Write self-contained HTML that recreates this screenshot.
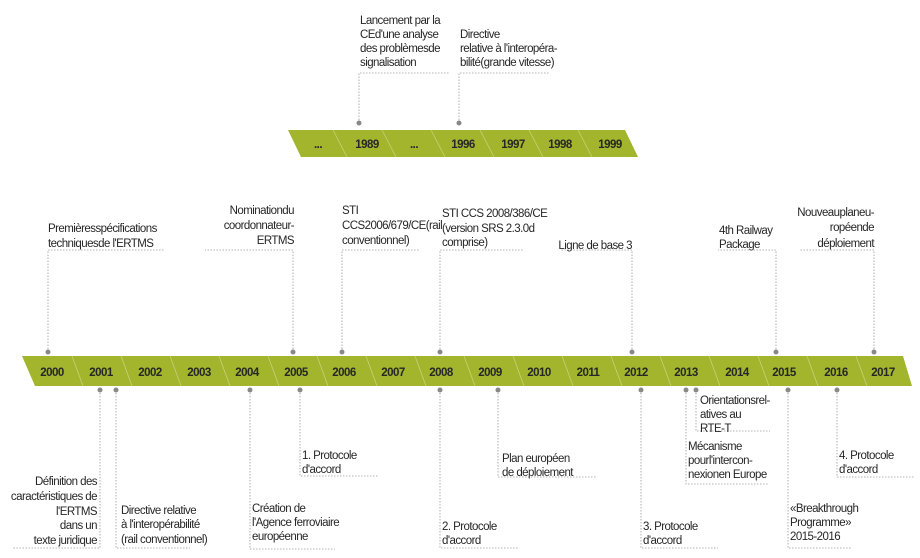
<!DOCTYPE html>
<html><head><meta charset="utf-8"><style>
html,body{margin:0;padding:0;background:#fff;}
svg{display:block}
text{font-family:"Liberation Sans Narrow","Liberation Sans",sans-serif;font-size:11.5px;fill:#262626;letter-spacing:-0.55px;}
.y{font-weight:bold;font-size:11.5px;fill:#3a3a1a;text-anchor:middle;letter-spacing:-0.3px}
.d{stroke:#9a9a9a;stroke-width:0.8;stroke-dasharray:1.5 1.5;fill:none}
.v{stroke:#c8d27a;stroke-width:0.8}
.r{text-anchor:end}
</style></head><body>
<svg width="920" height="558" viewBox="0 0 920 558" xmlns="http://www.w3.org/2000/svg">
<!-- top bar -->
<polygon points="288,130 625,130 638,157 301,157" fill="#a2b52c"/>
<g class="v">
<line x1="333" y1="130" x2="347" y2="157"/><line x1="382" y1="130" x2="396" y2="157"/>
<line x1="431" y1="130" x2="445" y2="157"/><line x1="480" y1="130" x2="494" y2="157"/>
<line x1="529" y1="130" x2="543" y2="157"/><line x1="578" y1="130" x2="592" y2="157"/>
</g>
<g class="y">
<text x="318" y="148">...</text><text x="367" y="148">1989</text><text x="414" y="148">...</text>
<text x="463" y="148">1996</text><text x="513" y="148">1997</text><text x="560" y="148">1998</text><text x="610" y="148">1999</text>
</g>
<path class="d" d="M359,123 V73 H450 M459,123 V73 H550"/>
<circle cx="359" cy="123" r="2.5" fill="#888"/><circle cx="459" cy="123" r="2.5" fill="#888"/>
<text x="360" y="24">Lancement par la</text><text x="360" y="38">CEd'une analyse</text>
<text x="360" y="52">des problèmesde</text><text x="360" y="66">signalisation</text>
<text x="460" y="38">Directive</text><text x="460" y="52">relative à l'interopéra-</text><text x="460" y="66">bilité(grande vitesse)</text>

<!-- main bar -->
<polygon points="22,356 903,356 912,386 35,386" fill="#a2b52c"/>
<g class="v">
<line x1="72" y1="356" x2="83" y2="386"/><line x1="121" y1="356" x2="132" y2="386"/>
<line x1="170" y1="356" x2="181" y2="386"/><line x1="219" y1="356" x2="230" y2="386"/>
<line x1="268" y1="356" x2="279" y2="386"/><line x1="317" y1="356" x2="328" y2="386"/>
<line x1="366" y1="356" x2="377" y2="386"/><line x1="415" y1="356" x2="426" y2="386"/>
<line x1="464" y1="356" x2="475" y2="386"/><line x1="513" y1="356" x2="524" y2="386"/>
<line x1="562" y1="356" x2="573" y2="386"/><line x1="611" y1="356" x2="622" y2="386"/>
<line x1="660" y1="356" x2="671" y2="386"/><line x1="709" y1="356" x2="720" y2="386"/>
<line x1="758" y1="356" x2="769" y2="386"/><line x1="807" y1="356" x2="818" y2="386"/>
<line x1="856" y1="356" x2="867" y2="386"/>
</g>
<g class="y">
<text x="52" y="376">2000</text><text x="101" y="376">2001</text><text x="150" y="376">2002</text>
<text x="199" y="376">2003</text><text x="247" y="376">2004</text><text x="296" y="376">2005</text>
<text x="344" y="376">2006</text><text x="393" y="376">2007</text><text x="441" y="376">2008</text>
<text x="490" y="376">2009</text><text x="539" y="376">2010</text><text x="588" y="376">2011</text>
<text x="636" y="376">2012</text><text x="686" y="376">2013</text><text x="737" y="376">2014</text>
<text x="784" y="376">2015</text><text x="836" y="376">2016</text><text x="883" y="376">2017</text>
</g>
<!-- top connectors -->
<path class="d" d="M48,352 V250 H165 M293,352 V250 H205 M342,352 V250 H420 M440,352 V250 H523 M632,352 V250 H560 M776,352 V250 H718 M874,352 V250 H800"/>
<g fill="#888">
<circle cx="48" cy="352" r="2.5"/><circle cx="293" cy="352" r="2.5"/><circle cx="342" cy="352" r="2.5"/>
<circle cx="440" cy="352" r="2.5"/><circle cx="632" cy="352" r="2.5"/><circle cx="776" cy="352" r="2.5"/><circle cx="874" cy="352" r="2.5"/>
</g>
<text x="48" y="232">Premièresspécifications</text><text x="48" y="247">techniquesde l'ERTMS</text>
<text class="r" x="294" y="214">Nominationdu</text><text class="r" x="294" y="229">coordonnateur-</text><text class="r" x="294" y="244">ERTMS</text>
<text x="342" y="214">STI</text><text x="342" y="229">CCS2006/679/CE(rail</text><text x="342" y="244">conventionnel)</text>
<text x="442" y="217">STI CCS 2008/386/CE</text><text x="442" y="232">(version SRS 2.3.0d</text><text x="442" y="246">comprise)</text>
<text class="r" x="632" y="249">Ligne de base 3</text>
<text x="719" y="234">4th Railway</text><text x="719" y="248">Package</text>
<text class="r" x="874" y="216">Nouveauplaneu-</text><text class="r" x="874" y="231">ropéende</text><text class="r" x="874" y="247">déploiement</text>
<!-- bottom connectors -->
<path class="d" d="M100,390 V548 H12 M116,390 V548 H190 M250,390 V549 H335 M300,390 V476 H378 M440,390 V548 H518 M498,390 V477 H597 M641,390 V548 H718 M696,390 V431 H770 M686,390 V484 H768 M788,390 V548 H852 M837,390 V477 H915"/>
<g fill="#888">
<circle cx="100" cy="390" r="2.5"/><circle cx="116" cy="390" r="2.5"/><circle cx="250" cy="390" r="2.5"/>
<circle cx="300" cy="390" r="2.5"/><circle cx="440" cy="390" r="2.5"/><circle cx="498" cy="390" r="2.5"/>
<circle cx="641" cy="390" r="2.5"/><circle cx="686" cy="390" r="2.5"/><circle cx="696" cy="390" r="2.5"/>
<circle cx="788" cy="390" r="2.5"/><circle cx="837" cy="390" r="2.5"/>
</g>
<text class="r" x="97" y="485">Définition des</text><text class="r" x="97" y="500">caractéristiques de</text>
<text class="r" x="97" y="515">l'ERTMS</text><text class="r" x="97" y="529">dans un</text><text class="r" x="97" y="544">texte juridique</text>
<text x="121" y="514">Directive relative</text><text x="121" y="528">à l'interopérabilité</text><text x="121" y="543">(rail conventionnel)</text>
<text x="252" y="512">Création de</text><text x="252" y="526">l'Agence ferroviaire</text><text x="252" y="540">européenne</text>
<text x="302" y="459">1. Protocole</text><text x="302" y="473">d'accord</text>
<text x="442" y="530">2. Protocole</text><text x="442" y="544">d'accord</text>
<text x="502" y="462">Plan européen</text><text x="502" y="476">de déploiement</text>
<text x="643" y="530">3. Protocole</text><text x="643" y="544">d'accord</text>
<text x="700" y="404">Orientationsrel-</text><text x="700" y="418">atives au</text><text x="700" y="432">RTE-T</text>
<text x="688" y="450">Mécanisme</text><text x="688" y="464">pourl'intercon-</text><text x="688" y="478">nexionen Europe</text>
<text x="790" y="512">«Breakthrough</text><text x="790" y="526">Programme»</text><text x="790" y="540">2015-2016</text>
<text x="839" y="459">4. Protocole</text><text x="839" y="473">d'accord</text>
</svg>
</body></html>
